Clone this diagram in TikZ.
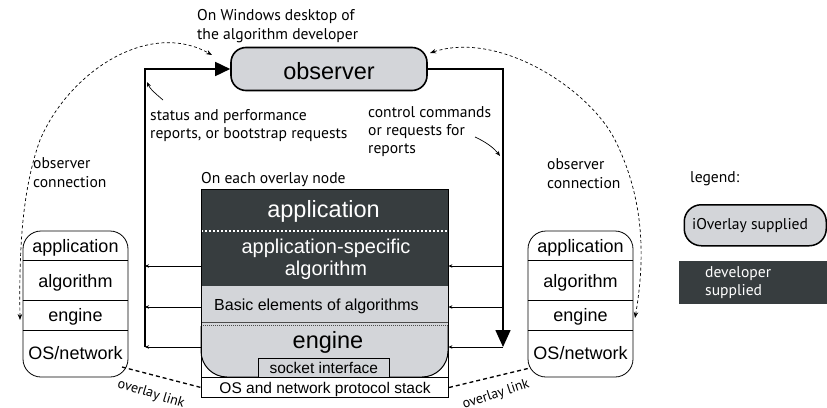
\documentclass[tikz,border=0pt]{standalone}
\usepackage{fontspec}
\setmainfont{Liberation Sans}
\newfontfamily\notefont{PT Sans}
\usetikzlibrary{arrows.meta}
\definecolor{devdark}{RGB}{55,61,63}
\definecolor{iolight}{RGB}{211,213,217}

\begin{document}
\begin{tikzpicture}[x=1pt,y=-1pt,
  note/.style={font=\notefont\fontsize{15.6}{18}\selectfont, inner sep=0pt, anchor=base west},
  txt/.style={inner sep=0pt, anchor=base},
  big/.style={txt, font=\fontsize{23.5}{26}\selectfont},
  mid/.style={txt, font=\fontsize{15.5}{18}\selectfont},
  row/.style={txt, font=\fontsize{18}{20}\selectfont},
  smallstack/.style={draw, line width=0.8pt, rounded corners=18pt, minimum width=105pt, minimum height=146pt, inner sep=0pt},
  divider/.style={line width=0.8pt},
  bus/.style={line width=1.6pt},
  tap/.style={line width=1pt, -{Stealth[length=4pt,width=3.5pt]}},
  obsconn/.style={line width=0.7pt, dash pattern=on 3pt off 2.5pt,
    {Stealth[length=6pt,width=4.5pt]}-{Stealth[length=6pt,width=4.5pt]}},
  hint/.style={line width=0.7pt, -{Stealth[length=5pt,width=4pt]}},
  link/.style={line width=1.3pt, dash pattern=on 4pt off 3pt},
  linklabel/.style={font=\notefont\fontsize{14}{16}\selectfont, inner sep=0pt},
]
\useasboundingbox (0,0) rectangle (827,407);

% ---------- observer ----------
\node[draw, line width=1.6pt, fill=iolight, rounded corners=15pt,
      minimum width=196pt, minimum height=43pt, inner sep=0pt] (obs) at (329,69) {};
\node[big] (obsT) at (329,79) {observer};
\node[note] (winA) at (197,20) {On Windows desktop of};
\node[note] (winB) at (197,39) {the algorithm developer};

% ---------- stack on each overlay node ----------
\node[note] (eachT) at (201,183) {On each overlay node};
\node[minimum width=247pt, minimum height=208pt, inner sep=0pt, anchor=north west] (stack) at (201,189) {};
\fill[devdark] (201,189) rectangle (448,286);
\fill[iolight] (201,286) rectangle (448,326);
\draw[line width=0.5pt, black!70] (201,322) -- (448,322);
\draw[line width=0.6pt, black!70, dash pattern=on 1pt off 1pt] (201,325.5) -- (448,325.5);
\filldraw[fill=iolight, line width=1pt, rounded corners=26pt] (201,326) -- (201,377) -- (448,377) -- (448,326);
\draw[white, line width=1.4pt, dash pattern=on 2.4pt off 1.6pt] (201,231) -- (448,231);
\node[draw, fill=iolight, line width=0.7pt, minimum width=131pt, minimum height=19pt,
      inner sep=0pt, anchor=north west] (sock) at (258,358) {};
\node[draw, line width=1pt, minimum width=247pt, minimum height=20pt,
      inner sep=0pt, anchor=north west] (osbox) at (201,377) {};
\draw[line width=1pt] (stack.north west) rectangle (stack.south east);

\node[big, text=white] (appT) at (323.5,217) {application};
\node[txt, text=white, font=\fontsize{20}{22}\selectfont] (algA) at (326,253) {application-specific};
\node[txt, text=white, font=\fontsize{20}{22}\selectfont] (algB) at (326,275) {algorithm};
\node[mid, font=\fontsize{16}{18}\selectfont] (basicT) at (316.5,310) {Basic elements of algorithms};
\node[big] (engT) at (328,348) {engine};
\node[mid] (sockT) at (sock.center |- 0,373) {socket interface};
\node[mid] (osT) at (osbox.center |- 0,393) {OS and network protocol stack};

% ---------- reporting and control buses ----------
\coordinate (rowA) at (0,266);
\coordinate (rowB) at (0,307);
\coordinate (rowC) at (0,347);
\coordinate (lbBot) at (145,347);
\coordinate (rbBot) at (503,347);
\draw[bus, -{Triangle[length=15pt,width=14pt]}] (lbBot) |- (obs.west);
\draw[bus, -{Triangle[length=17pt,width=15pt]}] (obs.east) -| (rbBot);
\foreach \r in {rowA,rowB,rowC}{
  \draw[tap] (stack.west |- \r) -- (lbBot |- \r);
  \draw[tap] (rbBot |- \r) -- (stack.east |- \r);
}

\node[note] (stA) at (150,120) {status and performance};
\node[note] (stB) at (150,138) {reports, or bootstrap requests};
\node[note] (ctA) at (368,117) {control commands};
\node[note] (ctB) at (368,135) {or requests for};
\node[note] (ctC) at (368,153) {reports};
\coordinate (stTail) at (163,100);
\coordinate (stTip) at (147,82);
\coordinate (ctTail) at (475,137);
\coordinate (ctTip) at (500,156);
\draw[hint] (stTail) .. controls (156,94) and (150,89) .. (stTip);
\draw[hint] (ctTail) .. controls (486,142) and (494,148) .. (ctTip);

% ---------- peer nodes ----------
\node[smallstack] (lst) at (75.5,304) {};
\node[smallstack] (rst) at (580.5,304) {};
\foreach \s in {lst,rst}{
  \draw[divider] (\s.west |- 0,260) -- (\s.east |- 0,260);
  \draw[divider] (\s.west |- 0,300.5) -- (\s.east |- 0,300.5);
  \draw[divider] (\s.west |- 0,330.5) -- (\s.east |- 0,330.5);
  \node[row] (\s App) at (\s.center |- 0,252) {application};
  \node[row] (\s Alg) at (\s.center |- 0,287) {algorithm};
  \node[row] (\s Eng) at (\s.center |- 0,321) {engine};
  \node[row] (\s OS)  at (\s.center |- 0,359) {OS/network};
}

% observer connections
\coordinate (lcEnd) at (20,320);
\coordinate (lcStart) at (212,55);
\coordinate (rcEnd) at (635,318);
\coordinate (rcStart) at (430,53);
\draw[obsconn] (lcEnd) .. controls (19,250) and (22,190) .. (40,140)
                      .. controls (70,70) and (150,20) .. (lcStart);
\draw[obsconn] (rcEnd) .. controls (645,260) and (645,200) .. (615,140)
                      .. controls (590,90) and (500,30) .. (rcStart);
\node[note] (ocLA) at (33,168) {observer};
\node[note] (ocLB) at (33,187) {connection};
\node[note] (ocRA) at (547,169) {observer};
\node[note] (ocRB) at (547,188) {connection};

% overlay links
\coordinate (llEnd) at (122,367);
\coordinate (rlEnd) at (530,368);
\draw[link] (llEnd) -- (osbox.west);
\draw[link] (osbox.east) -- (rlEnd);
\node[linklabel, rotate=-17] (olL) at (151,394) {overlay link};
\node[linklabel, rotate=18] (olR) at (496,394.5) {overlay link};

% ---------- legend ----------
\node[note] (legT) at (690,182) {legend:};
\node[draw, line width=1.5pt, fill=iolight, rounded corners=17pt, minimum width=142pt,
      minimum height=41pt, inner sep=0pt, anchor=north west] (legIO) at (683.5,204) {};
\node[note] (legIOT) at (692,229) {iOverlay supplied};
\node[fill=devdark, minimum width=148pt, minimum height=43pt, inner sep=0pt,
      anchor=north west] (legDev) at (679,261) {};
\node[note, text=white] (legDevA) at (705,277) {developer};
\node[note, text=white] (legDevB) at (705,295) {supplied};
\end{tikzpicture}
\end{document}
